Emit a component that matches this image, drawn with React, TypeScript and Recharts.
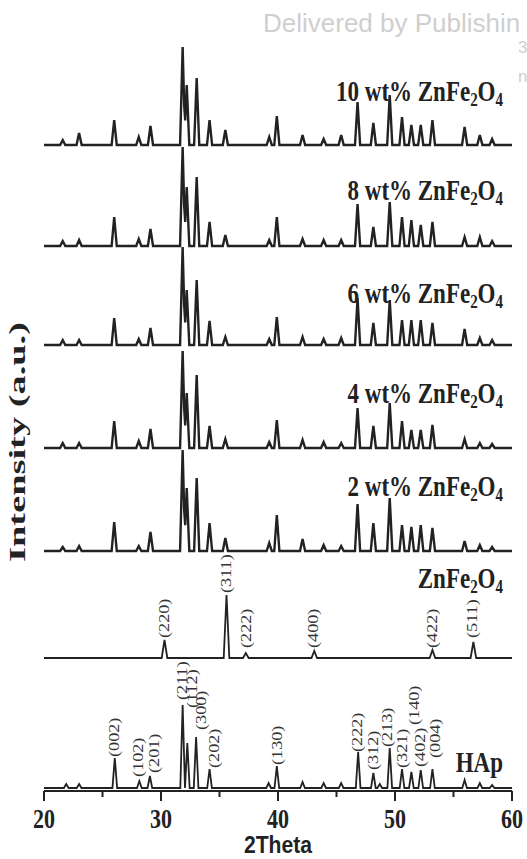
import React from 'react';
import { LineChart, Line, XAxis, YAxis, ReferenceDot } from 'recharts';

if (typeof document !== 'undefined') {
  document.body.style.margin = '0';
  document.body.style.overflow = 'hidden';
}

// peak positions (2θ) and heights (a.u.)
const COMP_POS = [21.6, 23.0, 26.0, 28.1, 29.1, 31.85, 32.2, 33.05, 34.15, 35.5, 39.25, 39.9, 42.1, 43.9, 45.4, 46.8, 48.15, 49.55, 50.6, 51.4, 52.2, 53.2, 55.95, 57.25, 58.3];
const H_10WT = [5, 12, 25, 8, 19, 98, 60, 67, 25, 15, 8, 29, 10, 6, 10, 43, 22, 50, 28, 20, 20, 25, 18, 10, 6];
const H_8WT = [5, 6, 29, 7, 17, 99, 59, 69, 24, 11, 6, 29, 7, 6, 6, 42, 19, 44, 29, 26, 21, 24, 9, 9, 5];
const H_6WT = [5, 5, 27, 6, 17, 98, 55, 65, 24, 8, 6, 28, 8, 6, 7, 47, 22, 45, 25, 25, 25, 22, 16, 7, 5];
const H_4WT = [5, 5, 27, 7, 19, 97, 55, 73, 22, 9, 6, 28, 8, 6, 5, 40, 22, 45, 27, 18, 18, 23, 9, 5, 4];
const H_2WT = [4, 5, 29, 5, 19, 101, 63, 73, 28, 13, 8, 36, 12, 6, 5, 47, 28, 53, 26, 24, 26, 23, 10, 6, 4];

const ZN_POS = [30.3, 35.6, 37.25, 43.1, 53.2, 56.7];
const ZN_H = [18, 63, 5, 7, 8, 16];

const HAP_POS = [21.9, 23.0, 26.05, 28.15, 29.05, 31.85, 32.25, 33.0, 34.15, 39.2, 39.9, 42.1, 43.9, 45.4, 46.85, 48.15, 48.7, 49.55, 50.6, 51.4, 52.2, 53.2, 55.95, 57.25, 58.3];
const HAP_H = [4, 4, 30, 7, 12, 83, 45, 51, 19, 5, 22, 6, 5, 5, 36, 15, 4, 40, 19, 16, 18, 19, 8, 5, 3];

// vertical stacking offsets
const OFFSET_HAP = 3;
const OFFSET_ZN = 133;
const OFFSETS_WT = [240, 343, 446, 545, 646]; // 2,4,6,8,10 wt%

const WT_NAMES = ['2', '4', '6', '8', '10'];
const WT_HEIGHTS = [H_2WT, H_4WT, H_6WT, H_8WT, H_10WT];

const ZN_HKL = ['(220)', '(311)', '(222)', '(400)', '(422)', '(511)'];
const HAP_HKL = ['(002)', '(102)', '(201)', '(211)', '(112)', '(300)', '(202)', '(130)', '(222)', '(312)', '(213)', '(321)', '(140)', '(402)', '(004)'];

const X_TICKS = [20, 25, 30, 35, 40, 45, 50, 55, 60];

// label anchors [2θ, intensity] for the hkl annotations
const ZN_HKL_AT: [number, number][] = [[30.34, 153], [35.64, 198], [37.35, 143], [43.08, 143], [53.25, 143], [56.67, 153]];
const HAP_HKL_AT: [number, number][] = [
  [26.07, 34], [28.12, 14], [29.49, 18], [31.88, 91], [32.74, 83], [33.5, 61], [34.62, 23],
  [40.0, 26], [46.84, 39], [48.21, 21], [49.4, 44], [50.68, 23], [51.71, 66], [52.22, 24], [53.5, 33],
];
const NAME_AT_X = 59.23;
const WT_NAME_Y = [295, 388, 488, 591, 690];

const INK = '#222';
const SERIF = '"Liberation Serif", "Times New Roman", serif';
const SANS = '"Liberation Sans", Arial, sans-serif';

function buildTrace(pos: number[], h: number[], w: number, base: number) {
  const xs = new Set<number>([20, 60]);
  pos.forEach((p) => {
    xs.add(+(p - w).toFixed(3));
    xs.add(p);
    xs.add(+(p + w).toFixed(3));
  });
  return [...xs]
    .filter((x) => x >= 20 && x <= 60)
    .sort((a, b) => a - b)
    .map((x) => {
      let v = 0;
      pos.forEach((p, i) => {
        const d = Math.abs(x - p);
        if (d < w) v = Math.max(v, h[i] * (1 - d / w));
      });
      return { x, y: base + v };
    });
}

const hapTrace = buildTrace(HAP_POS, HAP_H, 0.2, OFFSET_HAP);
const znTrace = buildTrace(ZN_POS, ZN_H, 0.24, OFFSET_ZN);
const wtTraces = WT_HEIGHTS.map((h, i) => buildTrace(COMP_POS, h, 0.22, OFFSETS_WT[i]));

function vb(p: any) {
  const v = p.viewBox || p;
  return { x: v.x, y: v.y };
}

function Hkl(text: string) {
  return (p: any) => {
    const { x, y } = vb(p);
    return (
      <text
        transform={`translate(${x},${y}) rotate(-90) scale(1.3,1)`}
        x={0}
        y={0}
        fontFamily={SERIF}
        fontSize={14}
        fill="#333"
        dominantBaseline="central"
        textAnchor="start"
      >
        {text}
      </text>
    );
  };
}

function Formula(prefix: string, size = 23) {
  return (p: any) => {
    const { x, y } = vb(p);
    const sub = Math.round(size * 0.65);
    return (
      <text
        transform={`translate(${x},${y}) scale(1,1.3)`}
        x={0}
        y={0}
        fontFamily={SERIF}
        fontWeight="bold"
        fontSize={size}
        fill={INK}
        textAnchor="end"
      >
        <tspan>{prefix}ZnFe</tspan>
        <tspan fontSize={sub} dy={4}>2</tspan>
        <tspan dy={-4}>O</tspan>
        <tspan fontSize={sub} dy={4}>4</tspan>
      </text>
    );
  };
}

function PlainName(text: string) {
  return (p: any) => {
    const { x, y } = vb(p);
    return (
      <text transform={`translate(${x},${y}) scale(1,1.3)`} fontFamily={SERIF} fontWeight="bold" fontSize={23} fill={INK} textAnchor="end">
        {text}
      </text>
    );
  };
}

function XTick(props: any) {
  const { x, y, payload } = props;
  const major = payload.value % 10 === 0;
  return (
    <g>
      <line x1={x} x2={x} y1={y} y2={y + (major ? 10 : 6)} stroke={INK} strokeWidth={2} />
      {major && (
        <text transform={`translate(${x},${y + 37}) scale(1,1.25)`} textAnchor="middle" fontFamily={SERIF} fontWeight="bold" fontSize={22} fill={INK}>
          {payload.value}
        </text>
      )}
    </g>
  );
}

export default function App() {
  return (
    <div style={{ position: 'relative', width: 527, height: 859, background: '#fff' }}>
      <LineChart width={527} height={859} margin={{ top: 39, right: 15, bottom: 0, left: 44 }}>
        <XAxis
          dataKey="x"
          type="number"
          domain={[20, 60]}
          ticks={X_TICKS}
          allowDataOverflow
          height={68}
          tickSize={0}
          tickMargin={0}
          tickLine={false}
          axisLine={{ stroke: INK, strokeWidth: 2 }}
          tick={<XTick />}
          interval={0}
        />
        <XAxis xAxisId="top" orientation="top" type="number" domain={[20, 60]} height={0} tick={false} tickLine={false} axisLine={{ stroke: INK, strokeWidth: 2 }} />
        <YAxis type="number" domain={[0, 752]} width={0} tick={false} tickLine={false} axisLine={{ stroke: INK, strokeWidth: 2 }} allowDataOverflow />
        <YAxis yAxisId="r" orientation="right" type="number" domain={[0, 752]} width={0} tick={false} tickLine={false} axisLine={{ stroke: INK, strokeWidth: 2 }} />

        <Line data={hapTrace} dataKey="y" type="linear" stroke={INK} strokeWidth={1.8} dot={false} isAnimationActive={false} />
        <Line data={znTrace} dataKey="y" type="linear" stroke={INK} strokeWidth={1.8} dot={false} isAnimationActive={false} />
        {wtTraces.map((t, i) => (
          <Line key={i} data={t} dataKey="y" type="linear" stroke={INK} strokeWidth={2.4} dot={false} isAnimationActive={false} />
        ))}

        {ZN_HKL.map((t, i) => (
          <ReferenceDot key={'zn' + i} x={ZN_HKL_AT[i][0]} y={ZN_HKL_AT[i][1]} r={0} fill="none" stroke="none" label={Hkl(t)} />
        ))}
        {HAP_HKL.map((t, i) => (
          <ReferenceDot key={'hap' + i} x={HAP_HKL_AT[i][0]} y={HAP_HKL_AT[i][1]} r={0} fill="none" stroke="none" label={Hkl(t)} />
        ))}
        {WT_NAMES.map((n, i) => (
          <ReferenceDot key={'wt' + i} x={NAME_AT_X} y={WT_NAME_Y[i]} r={0} fill="none" stroke="none" label={Formula(`${n} wt% `)} />
        ))}
        <ReferenceDot x={NAME_AT_X} y={203} r={0} fill="none" stroke="none" label={Formula('')} />
        <ReferenceDot x={NAME_AT_X} y={19} r={0} fill="none" stroke="none" label={PlainName('HAp')} />
      </LineChart>
      <svg width={527} height={859} style={{ position: 'absolute', left: 0, top: 0, pointerEvents: 'none' }}>
        <text x={263} y={32} fontFamily={SANS} fontSize={26} fill="#cfcfcf">Delivered by Publishin</text>
        <text x={518} y={53} fontFamily={SANS} fontSize={17} fill="#cfcfcf">3</text>
        <text x={518} y={82} fontFamily={SANS} fontSize={17} fill="#cfcfcf">n</text>
        <text transform="translate(25,442) rotate(-90) scale(1.6,1)" textAnchor="middle" fontFamily={SERIF} fontWeight="bold" fontSize={24} fill={INK}>
          Intensity (a.u.)
        </text>
        <text transform="translate(278,853) scale(0.92,1)" textAnchor="middle" fontFamily={SANS} fontWeight="bold" fontSize={23} fill={INK}>
          2Theta
        </text>
      </svg>
    </div>
  );
}
